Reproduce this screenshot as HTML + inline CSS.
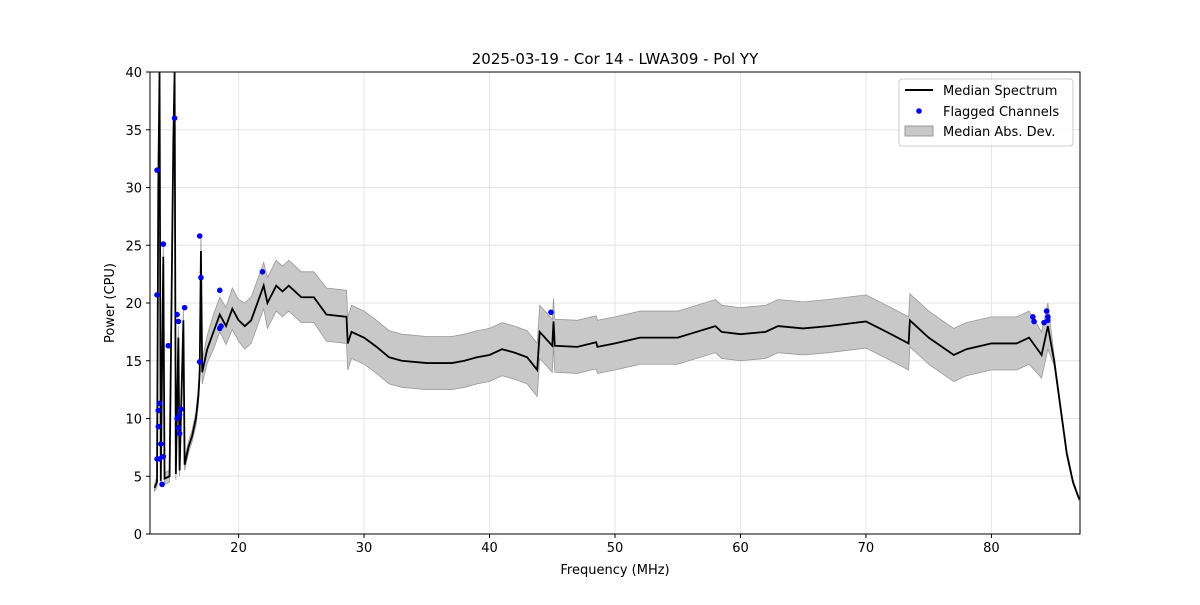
<!DOCTYPE html>
<html><head><meta charset="utf-8"><style>
body{margin:0;background:#fff;font-family:"Liberation Sans","DejaVu Sans",sans-serif}
svg text{font-family:"DejaVu Sans","Liberation Sans",sans-serif}
</style></head><body>
<svg id="chart" width="1200" height="600" xmlns="http://www.w3.org/2000/svg">
<rect width="1200" height="600" fill="#fff"/>
<g id="grid"></g>
<g id="plot"></g>
<rect x="150" y="72" width="930" height="462" fill="none" stroke="#000" stroke-width="1"/>
<g id="axes"></g>
<text x="615" y="64" text-anchor="middle" font-size="15">2025-03-19 - Cor 14 - LWA309 - Pol YY</text>
<text x="615" y="574" text-anchor="middle" font-size="13">Frequency (MHz)</text>
<text x="114" y="303" text-anchor="middle" font-size="13" transform="rotate(-90 114 303)">Power (CPU)</text>
<g>
<rect x="899" y="79" width="174" height="67" fill="#fff" fill-opacity="0.8" stroke="#ccc" rx="3"/>
<line x1="905" y1="90" x2="933" y2="90" stroke="#000" stroke-width="2"/>
<text x="943" y="95" font-size="13">Median Spectrum</text>
<circle cx="919" cy="111" r="2.8" fill="#00f"/>
<text x="943" y="116" font-size="13">Flagged Channels</text>
<rect x="905" y="126" width="28" height="10" fill="#c8c8c8" stroke="#999"/>
<text x="943" y="136" font-size="13">Median Abs. Dev.</text>
</g>
</svg>
<script>
const freqs=[13.3,13.5,13.6,13.7,13.8,14.0,14.1,14.5,14.8,14.9,15.0,15.2,15.3,15.6,15.7,16,16.3,16.6,16.8,16.9,17.0,17.1,17.5,18,18.5,19,19.5,20,20.5,21,22,22.3,23,23.5,24,24.5,25,26,27,28.6,28.7,29,30,31,32,33,35,37,38,39,40,41,42,43,43.8,44,45,45.1,45.2,47,48.5,48.6,50,52,55,58,58.5,60,62,63,65,67,70,72,73.4,73.5,75,77,78,80,82,83,84,84.5,85,85.5,86,86.5,87];
const median=[4,4.5,30,40,4.6,24,4.8,5,34,40,5.2,17,5.5,18.5,6,7.5,8.5,10,12,14,24.5,14,16,17.5,19,18,19.5,18.5,18,18.5,21.5,20,21.5,21,21.5,21,20.5,20.5,19,18.8,16.5,17.5,17,16.2,15.3,15,14.8,14.8,15,15.3,15.5,16,15.7,15.3,14.2,17.5,16.3,18.4,16.3,16.2,16.6,16.2,16.5,17,17,18,17.5,17.3,17.5,18,17.8,18,18.4,17.3,16.5,18.5,17,15.5,16,16.5,16.5,17,15.5,18,15,11,7,4.5,3];
const mad=[0.3,0.5,3,3,0.5,1,0.5,0.5,1.5,1.5,0.5,1,0.5,1,0.5,0.5,0.5,0.6,0.8,0.8,1.5,1,1.2,1.5,1.5,1.6,1.8,1.8,2,2,2,2.2,2.2,2.2,2.2,2.2,2.2,2.2,2.3,2.3,2.3,2.3,2.3,2.3,2.3,2.3,2.3,2.3,2.3,2.3,2.3,2.3,2.3,2.3,2.3,2.3,2.3,2,2.3,2.3,2.3,2.3,2.3,2.3,2.3,2.3,2.3,2.3,2.3,2.3,2.3,2.3,2.3,2.3,2.3,2.3,2.3,2.3,2.3,2.3,2.3,2.3,2,2,0.4,0.3,0.3,0.2,0.1];
const flagF=[13.5,13.5,13.6,13.7,13.6,13.8,13.5,13.7,14.0,13.9,14.0,14.4,14.9,15.1,15.2,15.1,15.3,15.4,15.2,15.3,15.7,16.9,17.0,16.9,18.5,18.5,18.6,21.9,44.9,83.3,83.4,84.2,84.4,84.5,84.5];
const flagP=[31.5,20.7,10.7,11.3,9.3,7.8,6.5,6.5,6.7,4.3,25.1,16.3,36,19,18.4,10,10.3,10.8,9.2,8.7,19.6,25.8,22.2,14.9,21.1,17.8,18,22.7,19.2,18.8,18.4,18.3,19.3,18.8,18.5];
const xTicks=[20,30,40,50,60,70,80];
const yTicks=[0,5,10,15,20,25,30,35,40];
const X=f=>150+(f-12.94)*(930/(87.06-12.94));
const Y=v=>534-Math.min(v,40.5)*(462/40);
const NS='http://www.w3.org/2000/svg';
function mk(t,a,p){const e=document.createElementNS(NS,t);for(const k in a)e.setAttribute(k,a[k]);p.appendChild(e);return e;}
const grid=document.getElementById('grid'),axes=document.getElementById('axes'),plot=document.getElementById('plot');
xTicks.forEach(t=>{
 const g=mk('line',{x1:X(t),x2:X(t),y1:72,y2:534,stroke:'#e6e6e6'},grid);
 
 
 mk('line',{x1:X(t),x2:X(t),y1:534,y2:538,stroke:'#000'},axes);
 const l=mk('text',{x:X(t),y:552,'text-anchor':'middle','font-size':13},axes);l.textContent=t;
 
 
});
yTicks.forEach(t=>{
 const g=mk('line',{x1:150,x2:1080,y1:Y(t),y2:Y(t),stroke:'#e6e6e6'},grid);
 
 
 mk('line',{x1:146,x2:150,y1:Y(t),y2:Y(t),stroke:'#000'},axes);
 const l=mk('text',{x:142,y:Y(t)+5,'text-anchor':'end','font-size':13},axes);l.textContent=t;
 
 
});
const clip=mk('clipPath',{id:'c'},plot);mk('rect',{x:150,y:72,width:930,height:462},clip);
const g=mk('g',{'clip-path':'url(#c)'},plot);
let up=freqs.map((f,i)=>X(f)+','+Y(median[i]+mad[i]));
let lo=freqs.map((f,i)=>X(f)+','+Y(Math.max(0,median[i]-mad[i]))).reverse();
const band=mk('polygon',{points:up.concat(lo).join(' '),fill:'#c8c8c8',stroke:'#999','stroke-width':0.8},g);


const line=mk('polyline',{points:freqs.map((f,i)=>X(f)+','+Y(median[i])).join(' '),fill:'none',stroke:'#000','stroke-width':1.8},g);


flagF.forEach((f,i)=>{
 const c=mk('circle',{cx:X(f),cy:Y(flagP[i]),r:2.8,fill:'#00f'},g);
 
 
});
</script>
</body></html>
